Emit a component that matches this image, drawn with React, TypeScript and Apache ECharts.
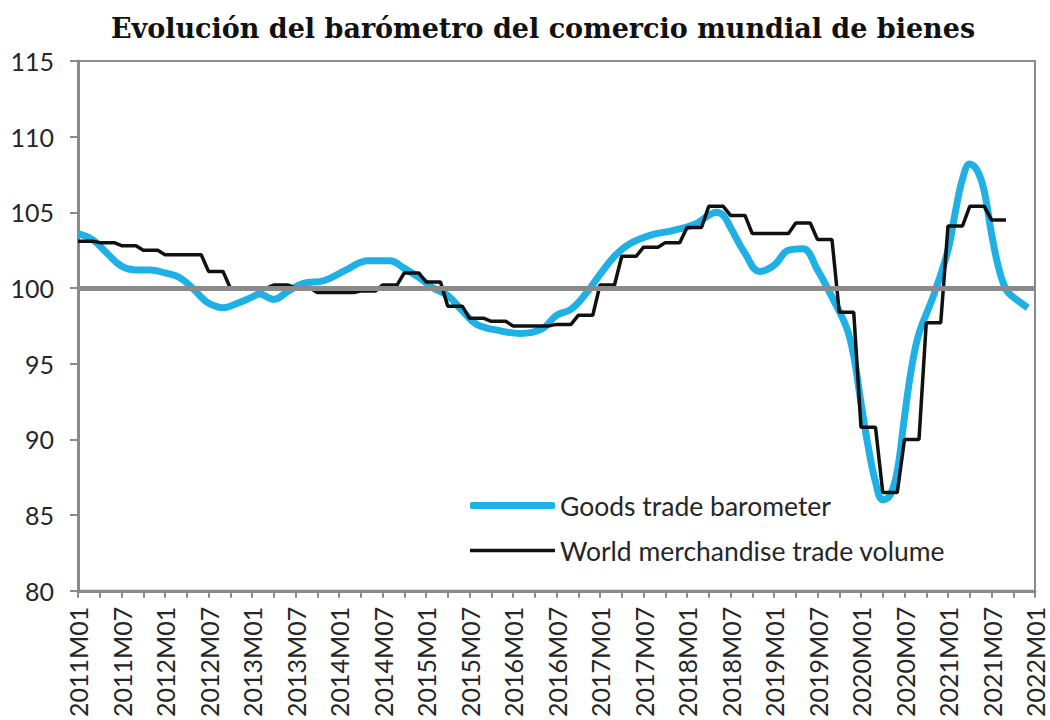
import React, { useEffect, useRef } from "react";
import * as echarts from "echarts";

const TITLE = "Evolución del barómetro del comercio mundial de bienes";
const YEARS = [2011, 2012, 2013, 2014, 2015, 2016, 2017, 2018, 2019, 2020, 2021];
const MONTHS = ["01", "02", "03", "04", "05", "06", "07", "08", "09", "10", "11", "12"];
const LAST_CATEGORY = "2022M01";

const CATEGORIES: string[] = [];
YEARS.forEach((y) => MONTHS.forEach((m) => CATEGORIES.push(`${y}M${m}`)));
CATEGORIES.push(LAST_CATEGORY);

// Goods trade barometer: sampled points [month index, value]
const BAROMETER: [number, number][] = [
  [0, 103.6], [2, 103.2], [4, 102.3], [6, 101.45], [8, 101.2], [10, 101.2],
  [12, 101.0], [14, 100.7], [16, 99.9], [17, 99.4], [18, 99.0], [20, 98.7],
  [22, 99.0], [24, 99.4], [25, 99.6], [27, 99.25], [29, 99.8], [31, 100.3],
  [34, 100.5], [37, 101.2], [40, 101.8], [43, 101.8], [45, 101.3], [47, 100.7],
  [49, 100.0], [51, 99.5], [53, 98.5], [55, 97.6], [58, 97.2], [61, 97.0],
  [64, 97.3], [66, 98.2], [68, 98.6], [70, 99.6], [72, 100.9], [74, 102.1],
  [76, 102.9], [79, 103.5], [82, 103.8], [85, 104.2], [87, 104.8], [88, 105.0],
  [89, 104.8], [90, 104.0], [92, 102.3], [94, 101.1], [96, 101.5], [98, 102.5],
  [100, 102.6], [102, 101.2], [104, 99.4], [106, 97.4], [107, 95.5], [108, 92.4],
  [109, 89.5], [110, 87.2], [111, 86.0], [112, 86.3], [113, 87.9], [114, 91.5],
  [115, 94.8], [116, 97.0], [118, 99.5], [120, 102.5], [121, 105.0], [122, 107.2],
  [123, 108.2], [124, 107.8], [125, 106.4], [126, 103.6], [127, 101.3], [128, 99.9],
  [129, 99.4], [131, 98.7],
];

// World merchandise trade volume: quarterly values (2011Q1 .. 2021Q3)
const VOLUME_QUARTERLY = [
  103.1, 103.0, 102.8, 102.5, 102.2, 102.2, 101.1, 100.0,
  100.0, 100.2, 100.0, 99.7, 99.7, 99.8, 100.2, 101.0,
  100.4, 98.8, 98.0, 97.8, 97.5, 97.5, 97.6, 98.2,
  100.2, 102.1, 102.7, 103.0, 104.0, 105.4, 104.8, 103.6,
  103.6, 104.3, 103.2, 98.4, 90.8, 86.5, 90.0, 97.7,
  104.1, 105.4, 104.5,
];
const VOLUME_MONTHLY: number[] = [];
VOLUME_QUARTERLY.forEach((v) => VOLUME_MONTHLY.push(v, v, v));

const Y_MIN = 80;
const Y_MAX = 115;
const Y_STEP = 5;
const REFERENCE = 100;

const SERIES_BAROMETER = "Goods trade barometer";
const SERIES_VOLUME = "World merchandise trade volume";

const BLUE = "#1fb1e6";
const BLACK = "#111111";
const GRAY = "#8a8a8a";
const TEXT = "#262626";
const FONT = "Lato";

export default function App() {
  const ref = useRef<HTMLDivElement>(null);
  useEffect(() => {
    if (!ref.current) return;
    const chart = echarts.init(ref.current, undefined, { renderer: "svg" });
    chart.setOption({
      animation: false,
      backgroundColor: "#ffffff",
      title: {
        text: TITLE,
        left: 538,
        textAlign: "center",
        top: 10,
        textStyle: {
          fontFamily: "DejaVu Serif",
          fontWeight: "bold",
          fontSize: 27,
          color: "#111",
        },
      },
      legend: [
        {
          data: [{ name: SERIES_BAROMETER, icon: "roundRect" }],
          left: 470,
          top: 492,
          padding: 0,
          itemWidth: 85,
          itemHeight: 7,
          textStyle: { fontFamily: FONT, fontSize: 26.5, color: TEXT },
        },
        {
          data: [{ name: SERIES_VOLUME, icon: "rect" }],
          left: 470,
          top: 537,
          padding: 0,
          itemWidth: 85,
          itemHeight: 3.5,
          textStyle: { fontFamily: FONT, fontSize: 26.5, color: TEXT },
        },
      ],
      grid: {
        left: 78,
        right: 15,
        top: 61,
        bottom: 127,
        show: true,
        borderColor: GRAY,
        borderWidth: 2,
        containLabel: false,
      },
      xAxis: {
        type: "category",
        data: CATEGORIES,
        boundaryGap: false,
        axisLine: { lineStyle: { color: GRAY, width: 3 } },
        axisTick: { interval: 2, length: 7, lineStyle: { color: GRAY, width: 2 } },
        axisLabel: {
          interval: 5,
          rotate: 90,
          margin: 16,
          fontFamily: FONT,
          fontSize: 25,
          color: TEXT,
        },
        splitLine: { show: false },
      },
      yAxis: {
        type: "value",
        min: Y_MIN,
        max: Y_MAX,
        interval: Y_STEP,
        axisLine: { show: true, lineStyle: { color: GRAY, width: 3 } },
        axisTick: { show: true, length: 8, lineStyle: { color: GRAY, width: 2 } },
        axisLabel: { margin: 24, fontFamily: FONT, fontSize: 25, color: TEXT },
        splitLine: { show: false },
      },
      series: [
        {
          name: SERIES_BAROMETER,
          type: "line",
          data: BAROMETER,
          smooth: 0.4,
          showSymbol: false,
          z: 2,
          lineStyle: { color: BLUE, width: 7 },
          itemStyle: { color: BLUE },
        },
        {
          name: SERIES_VOLUME,
          type: "line",
          data: VOLUME_MONTHLY,
          showSymbol: false,
          z: 3,
          lineStyle: { color: BLACK, width: 3.5 },
          itemStyle: { color: BLACK },
          markLine: {
            silent: true,
            symbol: "none",
            label: { show: false },
            lineStyle: { color: GRAY, width: 5, type: "solid" },
            data: [{ yAxis: REFERENCE }],
          },
        },
      ],
    });
    return () => chart.dispose();
  }, []);
  return (
    <div
      ref={ref}
      style={{ position: "fixed", left: 0, top: 0, width: 1050, height: 720 }}
    />
  );
}
